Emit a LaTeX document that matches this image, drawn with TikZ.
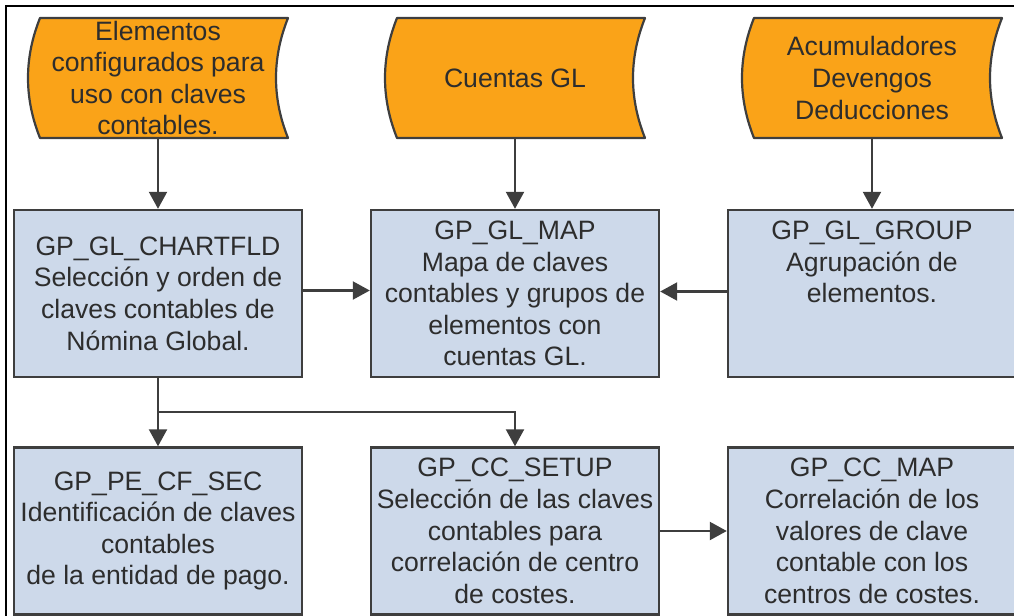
\documentclass[tikz,border=0pt]{standalone}
\usepackage{fontspec}
\setmainfont{Liberation Sans}
\usetikzlibrary{arrows.meta}
\definecolor{tapeorange}{RGB}{250,163,24}
\definecolor{boxblue}{RGB}{205,217,234}
\definecolor{edgegray}{RGB}{62,62,62}
\definecolor{textgray}{RGB}{45,45,45}
\newcommand\tapeoutline[2]{%
  \draw[tapeline] (#1-118,#2-60) .. controls (#1-134,#2-20) and (#1-134,#2+20) .. (#1-118,#2+60)
    -- (#1+130,#2+60) .. controls (#1+114,#2+20) and (#1+114,#2-20) .. (#1+130,#2-60) -- cycle;}
\begin{document}
\begin{tikzpicture}[x=0.5pt,y=-0.5pt,
  tape/.style={minimum width=130pt,minimum height=60pt,inner sep=0pt,align=center,
    text=textgray,font=\fontsize{13.3}{15.8}\selectfont},
  tapeline/.style={draw=edgegray,fill=tapeorange,line width=1.1pt,line join=round},
  tbl/.style={draw=edgegray,fill=boxblue,line width=1.2pt,minimum width=144pt,
    minimum height=83.5pt,inner sep=0pt,align=center,text=textgray,
    font=\fontsize{13.3}{15.8}\selectfont},
  flow/.style={draw=edgegray,line width=1.1pt,-{Triangle[length=8.5pt,width=9pt]}}]
  \useasboundingbox (0,0) rectangle (1014,616);
  \draw[line width=1.4pt] (6,616) -- (6,6) -- (1014,6);
  \tapeoutline{158}{78}
  \tapeoutline{515}{78}
  \tapeoutline{872}{78}
  \node[tape] (elem) at (158,78) {Elementos\\configurados para\\uso con claves\\contables.};
  \node[tape] (cuentas) at (515,78) {Cuentas GL};
  \node[tape] (acum) at (872,78) {Acumuladores\\Devengos\\Deducciones};
  \node[tbl] (chart) at (158,293.5) {GP\_GL\_CHARTFLD\\Selección y orden de\\claves contables de\\Nómina Global.};
  \node[tbl] (glmap) at (515,293.5) {GP\_GL\_MAP\\Mapa de claves\\contables y grupos de\\elementos con\\cuentas GL.};
  \node[tbl] (glgroup) at (872,293.5) {GP\_GL\_GROUP\\Agrupación de\\elementos.\\\mbox{}\\\mbox{}};
  \node[tbl] (pesec) at (158,531) {GP\_PE\_CF\_SEC\\Identificación de claves\\contables\\de la entidad de pago.};
  \node[tbl] (ccsetup) at (515,531) {GP\_CC\_SETUP\\Selección de las claves\\contables para\\correlación de centro\\de costes.};
  \node[tbl] (ccmap) at (872,531) {GP\_CC\_MAP\\Correlación de los\\valores de clave\\contable con los\\centros de costes.};
  \coordinate (split) at (158,412);
  \draw[flow] (elem) -- (chart);
  \draw[flow] (cuentas) -- (glmap);
  \draw[flow] (acum) -- (glgroup);
  \draw[flow] ([yshift=1.5pt]chart.east) -- ([yshift=1.5pt]glmap.west);
  \draw[flow] ([yshift=1pt]glgroup.west) -- ([yshift=1pt]glmap.east);
  \draw[flow] (chart) -- (pesec);
  \draw[flow] (split) -| (ccsetup);
  \draw[flow] (ccsetup) -- (ccmap);
\end{tikzpicture}
\end{document}
